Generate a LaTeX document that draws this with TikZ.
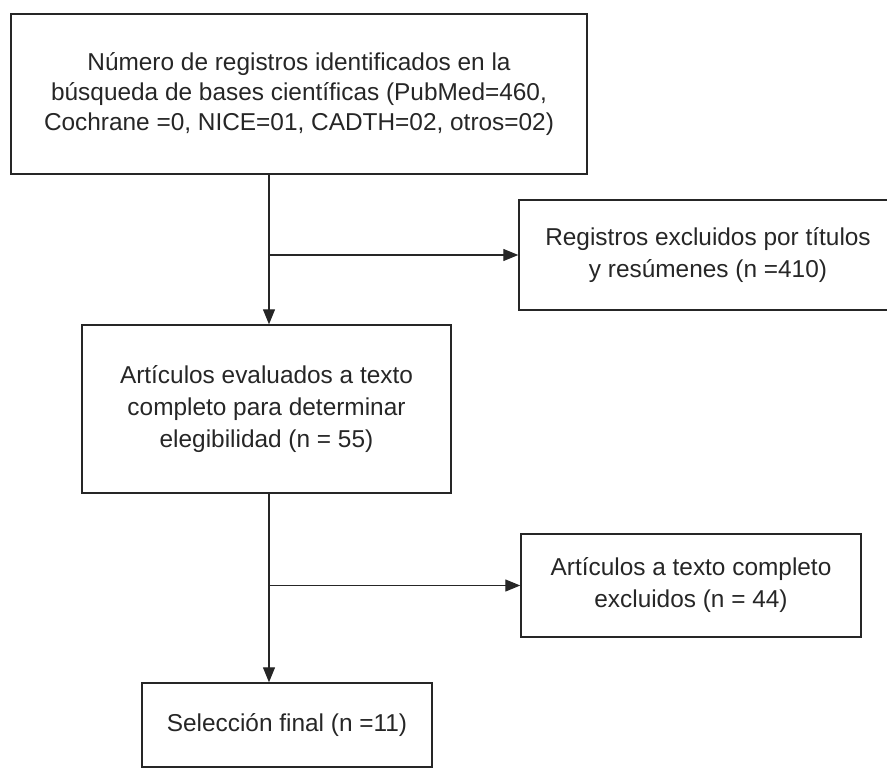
\documentclass[tikz,border=0pt]{standalone}
\usepackage{fontspec}
\setmainfont{Liberation Sans}
\usetikzlibrary{positioning}
\usetikzlibrary{arrows.meta}

\begin{document}
\begin{tikzpicture}
    [
    on grid,
    every node/.style={draw=black!85, rectangle, line width=1.4pt},
    record/.style={align=center, text=black!85, inner sep=0pt, font=\fontsize{24.4}{32}\selectfont},
    flow/.style={draw=black!85, line width=1.2pt, -{Triangle[length=15pt,width=12pt]}},
    ]

    \useasboundingbox (0pt,0pt) rectangle (887pt,-769pt);
    \clip (0pt,0pt) rectangle (887pt,-769pt);

    \node[record, minimum width=576pt, minimum height=160pt, font=\fontsize{24.4}{30}\selectfont] (registros) at (299pt,-94pt)
        {Número de registros identificados en la\\búsqueda de bases científicas (PubMed=460,\\Cochrane =0, NICE=01, CADTH=02, otros=02)};
    \node[record, below right=161pt and 409pt of registros, minimum width=378pt, minimum height=110pt] (excl_titulos)
        {Registros excluidos por títulos\\y resúmenes (n =410)};
    \node[record, below left=315pt and 32.5pt of registros, minimum width=369pt, minimum height=168pt] (evaluados)
        {Artículos evaluados a texto\\completo para determinar\\elegibilidad (n = 55)};
    \node[record, below right=176.5pt and 424.5pt of evaluados, minimum width=340pt, minimum height=103pt] (excl_texto)
        {Artículos a texto completo\\excluidos (n = 44)};
    \node[record, below right=316pt and 20.5pt of evaluados, minimum width=290pt, minimum height=84pt] (seleccion)
        {Selección final (n =11)};

    \coordinate (trunk) at (269pt,0pt);

    \draw[flow] (trunk |- registros.south) -- (trunk |- evaluados.north);
    \draw[flow] (trunk |- excl_titulos.west) -- (excl_titulos.west);
    \draw[flow] (trunk |- evaluados.south) -- (trunk |- seleccion.north);
    \draw[flow] (trunk |- excl_texto.west) -- (excl_texto.west);
\end{tikzpicture}
\end{document}
